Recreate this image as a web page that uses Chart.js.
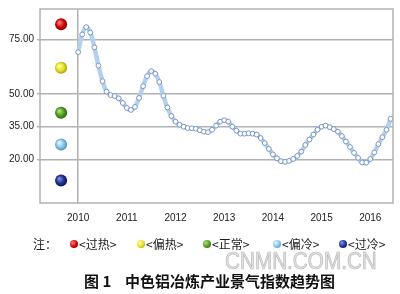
<!DOCTYPE html>
<html>
<head>
<meta charset="utf-8">
<script src="https://cdn.jsdelivr.net/npm/chart.js@4.4.0/dist/chart.umd.min.js"></script>
<style>
  body { margin: 0; background: #fff; }
  #wrap { position: relative; width: 400px; height: 294px; overflow: hidden; }
  .lg { position: absolute; top: 235px; font: 12px "Noto Sans CJK SC", sans-serif; color: #222; white-space: nowrap; }
  .dot { position: absolute; top: 240px; width: 8px; height: 8px; border-radius: 50%; }
  #mark { position: absolute; left: 225px; top: 248px; font: 23px "Liberation Sans", Arial, sans-serif; color: #e2e2e2;
          -webkit-text-stroke: 0.7px #b8b8b8; transform: scaleX(0.9); transform-origin: left top; }
  #title { position: absolute; left: 84px; top: 270px; font: bold 15px "Noto Sans CJK SC", sans-serif; color: #111; white-space: nowrap; }
</style>
</head>
<body>
<div id="wrap">
  <canvas id="chart" width="400" height="294"></canvas>
  <div id="legend"></div>
  <div id="mark">CNMN.COM.CN</div>
  <div id="title">图 1&nbsp;&nbsp;&nbsp;&nbsp;中色铝冶炼产业景气指数趋势图</div>
</div>
<script>
// monthly index, Jan 2010 - Jun 2016
const indexValues = [
    69.2, 77.3, 80.7, 78.2, 71.4, 63.0, 55.9, 51.1, 49.5, 49.1, 48.0, 45.9,
    43.6, 42.7, 44.1, 48.2, 53.6, 58.2, 60.5, 59.3, 55.5, 49.2, 43.8, 39.9,
    37.3, 35.9, 35.0, 34.4, 34.3, 34.1, 33.4, 32.7, 32.5, 33.6, 35.5, 37.3,
    38.0, 37.3, 35.0, 33.2, 31.8, 31.8, 32.0, 31.8, 31.4, 29.8, 27.5, 24.8,
    22.3, 20.5, 19.2, 18.9, 19.3, 20.2, 21.6, 23.6, 26.6, 29.1, 31.4, 33.6,
    35.0, 35.5, 34.8, 33.9, 32.7, 30.7, 28.2, 25.7, 23.0, 20.7, 18.6, 18.5,
    20.2, 23.2, 27.0, 30.2, 33.6, 38.6
];
const years = ['2010', '2011', '2012', '2013', '2014', '2015', '2016'];
const yTicks = [20, 35, 50, 75];

// signal lamps in the left column
const lampNames = ['<过热>', '<偏热>', '<正常>', '<偏冷>', '<过冷>'];
const lampLevels = [82.0, 62.0, 41.4, 26.8, 10.3];
const lampColors = [
    ['#ff8080', '#d00000', '#700000'],
    ['#ffffa0', '#e4dc20', '#8a8400'],
    ['#b0e080', '#4a9a1c', '#1e5008'],
    ['#e8f6ff', '#7cc0ea', '#3a7eb0'],
    ['#8090e0', '#1c2c8c', '#08104a']
];

const gridGray = '#b2b2b2';

function lampFill(ctx) {
    const c = lampColors[ctx.dataIndex] || lampColors[0];
    if (ctx.type !== 'data') return c[1];
    const chart = ctx.chart;
    const x = chart.scales.x.getPixelForValue(ctx.raw.x);
    const y = chart.scales.y.getPixelForValue(ctx.raw.y);
    if (!isFinite(x) || !isFinite(y)) return c[1];
    const g = chart.ctx.createRadialGradient(x - 2, y - 2, 0.5, x, y, 7);
    g.addColorStop(0, c[0]);
    g.addColorStop(0.55, c[1]);
    g.addColorStop(1, c[2]);
    return g;
}

const boxPlugin = {
    id: 'box',
    afterDraw(chart) {
        const a = chart.chartArea;
        const c = chart.ctx;
        c.save();
        c.strokeStyle = gridGray;
        c.lineWidth = 1.5;
        c.strokeRect(a.left, a.top, a.right - a.left, a.bottom - a.top);
        c.restore();
    }
};

new Chart(document.getElementById('chart'), {
    type: 'line',
    data: {
        datasets: [
            {
                data: indexValues.map((v, i) => ({ x: i, y: v })),
                borderColor: '#b3d1ee',
                borderWidth: 4.5,
                tension: 0.4,
                pointRadius: 2.4,
                pointBorderWidth: 1,
                pointBorderColor: '#7d97c4',
                pointBackgroundColor: '#ffffff'
            },
            {
                type: 'scatter',
                data: lampLevels.map(v => ({ x: -4.2, y: v })),
                pointRadius: 6,
                pointBorderWidth: 0,
                backgroundColor: lampFill
            }
        ]
    },
    options: {
        responsive: false,
        animation: false,
        layout: { padding: { left: 0, top: 7, right: 7, bottom: 61 } },
        plugins: { legend: { display: false }, tooltip: { enabled: false } },
        scales: {
            x: {
                type: 'linear',
                min: -9.4,
                max: 77.6,
                afterBuildTicks: s => { s.ticks = years.map((y, i) => ({ value: i * 12 })); },
                ticks: {
                    callback: v => years[Math.round(v / 12)],
                    padding: 9,
                    maxRotation: 0,
                    autoSkip: false,
                    color: '#222',
                    font: { family: '"Liberation Sans", Arial, sans-serif', size: 10 }
                },
                grid: {
                    drawTicks: false,
                    lineWidth: 1.5,
                    color: c => (c.tick && c.tick.value === 0) ? gridGray : 'rgba(0,0,0,0)'
                },
                border: { display: false }
            },
            y: {
                min: 0,
                max: 89,
                afterBuildTicks: s => { s.ticks = yTicks.map(v => ({ value: v })); },
                afterFit: s => { s.width = 40; },
                ticks: {
                    callback: v => v.toFixed(2),
                    padding: 3,
                    color: '#222',
                    font: { family: '"Liberation Sans", Arial, sans-serif', size: 10 }
                },
                grid: { color: gridGray, lineWidth: 1.5, tickLength: 3 },
                border: { display: false }
            }
        }
    },
    plugins: [boxPlugin]
});

// note row under the chart
const legend = document.getElementById('legend');
const lgX = [79, 146, 212, 282, 348];
let html = '<span class="lg" style="left:33px">注：</span>';
lampNames.forEach((name, i) => {
    const c = lampColors[i];
    html += '<span class="dot" style="left:' + (lgX[i] - 9) + 'px;background:radial-gradient(circle at 35% 35%,' +
        c[0] + ',' + c[1] + ' 55%,' + c[2] + ')"></span>';
    html += '<span class="lg" style="left:' + lgX[i] + 'px">' + name.replace('<', '&lt;').replace('>', '&gt;') + '</span>';
});
legend.innerHTML = html;
</script>
</body>
</html>
